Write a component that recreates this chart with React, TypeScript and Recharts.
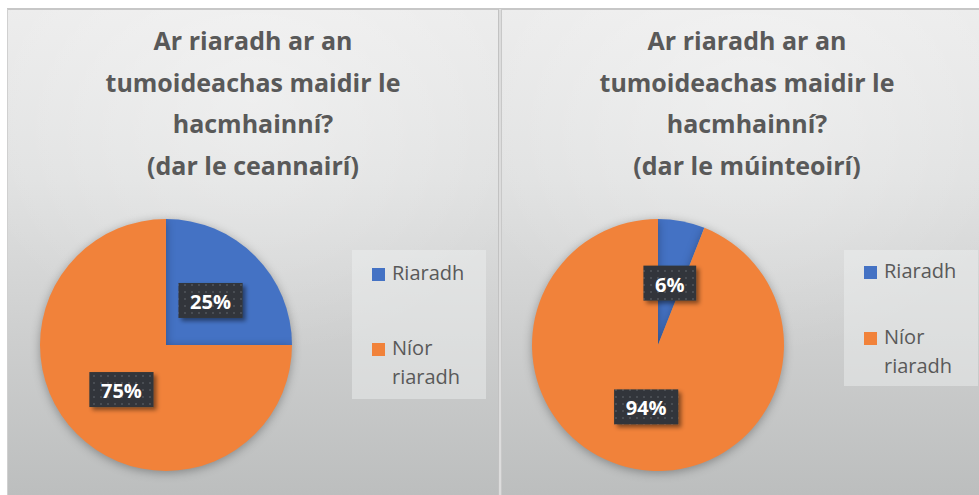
import React from 'react';
import { PieChart, Pie, Cell, Legend } from 'recharts';

const categories = ['Riaradh', 'Níor riaradh'];
const leadersValues = [25, 75];
const teachersValues = [6, 94];
const leadersTitle = ['Ar riaradh ar an', 'tumoideachas maidir le', 'hacmhainní?', '(dar le ceannairí)'];
const teachersTitle = ['Ar riaradh ar an', 'tumoideachas maidir le', 'hacmhainní?', '(dar le múinteoirí)'];

const COLORS = ['#4472C4', '#F1823A'];
const FONT = '"Open Sans", "Noto Sans", sans-serif';
const RADIAN = Math.PI / 180;

const PANEL_W = 492;
const PANEL_H = 486;

function makeLabel(prefix: string) {
  return (props: any) => {
    const { cx, cy, midAngle, outerRadius, percent, index } = props;
    const r = outerRadius * 0.5;
    const x = cx + r * Math.cos(-midAngle * RADIAN);
    const y = cy + r * Math.sin(-midAngle * RADIAN);
    const text = `${Math.round(percent * 100)}%`;
    const digits = text.length - 1;
    const w = 24 + digits * 11.4 + 17.4;
    const h = 35;
    const pid = `${prefix}-pat-${index}`;
    const fid = `${prefix}-sh-${index}`;
    return (
      <g key={`lbl-${index}`}>
        <defs>
          <pattern id={pid} x={0} y={0} width={7} height={7} patternUnits="userSpaceOnUse">
            <rect x={0} y={0} width={7} height={7} fill="#32363a" />
            <rect x={2} y={2} width={2} height={2} fill="#4a4e52" />
          </pattern>
          <filter id={fid} x="-30%" y="-30%" width="160%" height="180%">
            <feDropShadow dx={3} dy={3} stdDeviation={2.2} floodColor="#000" floodOpacity={0.45} />
          </filter>
        </defs>
        <rect x={x - w / 2} y={y - h / 2} width={w} height={h} fill={`url(#${pid})`} filter={`url(#${fid})`} />
        <text
          x={x}
          y={y + 1}
          textAnchor="middle"
          dominantBaseline="central"
          fill="#ffffff"
          fontFamily={FONT}
          fontWeight={700}
          fontSize={20}
        >
          {text}
        </text>
      </g>
    );
  };
}

function makeLegend(itemTops: number[]) {
  return (props: any) => {
    const payload = props.payload || [];
    return (
      <div style={{ position: 'relative', width: '100%', height: '100%', background: 'rgba(240,241,241,0.45)' }}>
        {categories.map((name, i) => {
          const entry = payload.find((p: any) => p.value === name);
          const color = (entry && entry.color) || COLORS[i];
          return (
            <div
              key={name}
              style={{
                position: 'absolute',
                left: 20,
                top: itemTops[i],
                width: 108,
                display: 'flex',
                alignItems: 'flex-start',
                fontFamily: FONT,
                fontSize: 20,
                lineHeight: '29px',
                color: '#595959',
              }}
            >
              <div style={{ width: 13, height: 13, background: color, marginTop: 10, flex: '0 0 13px' }} />
              <div style={{ marginLeft: 7, width: 88 }}>{name}</div>
            </div>
          );
        })}
      </div>
    );
  };
}

function Panel(props: {
  left: number;
  title: string[];
  values: number[];
  id: string;
  cx: number;
  legendLeft: number;
  legendH: number;
  itemTops: number[];
}) {
  const { left, title, values, id, cx, legendLeft, legendH, itemTops } = props;
  const data = categories.map((name, i) => ({ name, value: values[i] }));
  return (
    <div
      style={{
        position: 'absolute',
        left,
        top: 9,
        width: PANEL_W,
        height: PANEL_H,
        background:
          'radial-gradient(ellipse 300px 260px at 50% 18%, rgba(255,255,255,0.35), rgba(255,255,255,0) 100%), linear-gradient(to bottom, #ececec 0%, #e0e1e1 35%, #cfd0d0 65%, #bcbebe 100%)',
        overflow: 'hidden',
      }}
    >
      <div
        style={{
          position: 'absolute',
          left: 0,
          top: 11,
          width: PANEL_W,
          textAlign: 'center',
          fontFamily: FONT,
          fontWeight: 700,
          fontSize: 25,
          lineHeight: '41.5px',
          color: '#595959',
        }}
      >
        {title.map((t, i) => (
          <div key={i}>{t}</div>
        ))}
      </div>
      <style>{`.pie-${id} .recharts-pie-sector { filter: drop-shadow(0px 2px 5px rgba(0,0,0,0.3)); }`}</style>
      <div className={`pie-${id}`} style={{ position: 'absolute', left: 0, top: 0 }}>
        <PieChart width={PANEL_W} height={PANEL_H} margin={{ top: 0, right: 0, bottom: 0, left: 0 }}>
          <Pie
            data={data}
            dataKey="value"
            nameKey="name"
            cx={cx}
            cy={336}
            outerRadius={126}
            startAngle={90}
            endAngle={-270}
            stroke="none"
            labelLine={false}
            label={makeLabel(id)}
            isAnimationActive={false}
          >
            {data.map((d, i) => (
              <Cell key={d.name} fill={COLORS[i]} />
            ))}
          </Pie>
          <Legend
            layout="vertical"
            align="right"
            verticalAlign="middle"
            content={makeLegend(itemTops)}
            wrapperStyle={{ left: legendLeft, top: 241, width: 134, height: legendH }}
          />
        </PieChart>
      </div>
    </div>
  );
}

export default function App() {
  return (
    <div
      style={{
        position: 'absolute',
        left: 0,
        top: 0,
        width: 979,
        height: 495,
        background: '#ffffff',
        overflow: 'hidden',
      }}
    >
      <Panel
        left={7}
        title={leadersTitle}
        values={leadersValues}
        id="a"
        cx={159}
        legendLeft={345}
        legendH={149}
        itemTops={[8, 83]}
      />
      <Panel
        left={501}
        title={teachersTitle}
        values={teachersValues}
        id="b"
        cx={157}
        legendLeft={343}
        legendH={136}
        itemTops={[6, 72]}
      />
      <div style={{ position: 'absolute', left: 7, top: 8, width: 972, height: 2, background: '#c7c7c7' }} />
      <div style={{ position: 'absolute', left: 7, top: 9, width: 1, height: 486, background: '#d0d0d0' }} />
      <div style={{ position: 'absolute', left: 498, top: 9, width: 1, height: 486, background: '#c2c2c2' }} />
      <div style={{ position: 'absolute', left: 499, top: 9, width: 2, height: 486, background: '#dcdcdc' }} />
      <div style={{ position: 'absolute', left: 501, top: 9, width: 1, height: 486, background: '#c8c8c8' }} />
    </div>
  );
}
